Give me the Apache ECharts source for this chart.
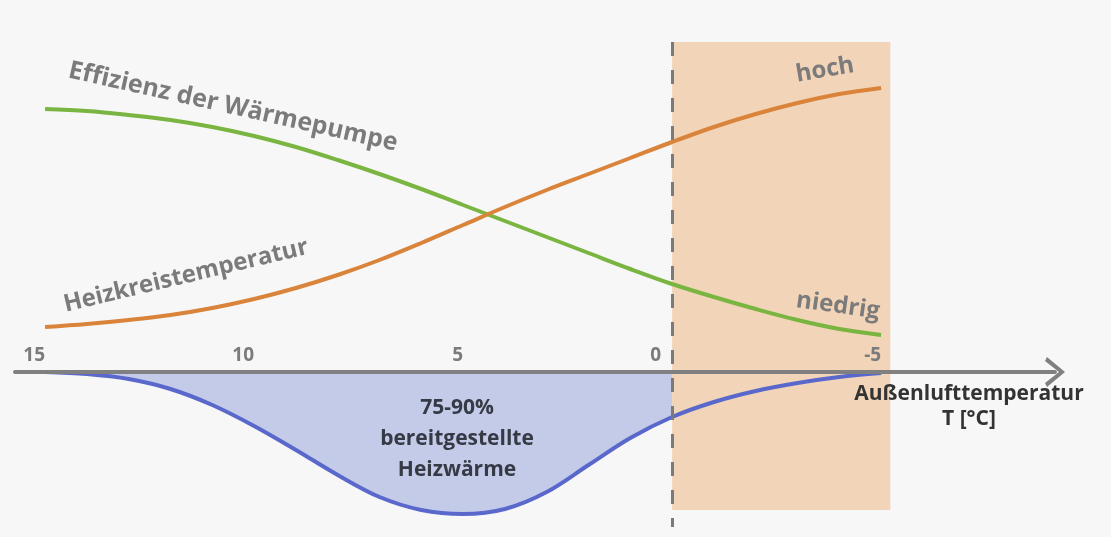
<!DOCTYPE html>
<html>
<head>
<meta charset="utf-8">
<script src="https://cdn.jsdelivr.net/npm/echarts@6/dist/echarts.min.js"></script>
<style>
  html, body { margin: 0; padding: 0; background: #f7f7f7; }
  #chart { width: 1111px; height: 537px; }
</style>
</head>
<body>
<div id="chart"></div>
<script>
// Außenlufttemperatur in °C (Achse läuft von 15 nach -5)
const temps = [15, 14, 13, 12, 11, 10, 9, 8, 7, 6, 5, 4, 3, 2, 1, 0, -1, -2, -3, -4, -5];
// Effizienz der Wärmepumpe (relative Einheiten)
const effizienz = [2.63, 2.61, 2.57, 2.52, 2.45, 2.36, 2.25, 2.12, 1.98, 1.83, 1.67, 1.51, 1.35, 1.19, 1.03, 0.88, 0.75, 0.63, 0.52, 0.43, 0.37];
// Heizkreistemperatur (relative Einheiten)
const heizkreis = [0.45, 0.48, 0.52, 0.57, 0.64, 0.73, 0.84, 0.97, 1.12, 1.29, 1.47, 1.65, 1.82, 1.98, 2.14, 2.30, 2.45, 2.58, 2.69, 2.78, 2.84];
// bereitgestellte Heizwärme (nach unten aufgetragen)
const heizwaerme = [0, -0.02, -0.07, -0.17, -0.33, -0.54, -0.78, -1.03, -1.25, -1.38, -1.42, -1.37, -1.20, -0.93, -0.66, -0.45, -0.30, -0.19, -0.11, -0.05, -0.01];
const tickLabels = [15, 10, 5, 0, -5];

const chart = echarts.init(document.getElementById('chart'));

const pairs = (ys) => temps.map((t, i) => [t, ys[i]]);
const textColor = '#7b7b7b';
const font = '"Open Sans", "Noto Sans", sans-serif';

const option = {
  backgroundColor: '#f7f7f7',
  animation: false,
  grid: { left: 15, right: 56, top: 22, bottom: 0 },
  xAxis: {
    type: 'value',
    inverse: true,
    min: -9.16,
    max: 15.72,
    z: 10,
    // Achse auf Höhe der Nulllinie
    offset: -165,
    splitLine: { show: false },
    axisLine: {
      onZero: false,
      lineStyle: { color: '#808080', width: 4 },
      symbol: ['none', 'path://M0,18 L15,0 L30,18 L26,20 L15,6 L4,20 Z'],
      symbolSize: [30, 20]
    },
    axisTick: { show: false },
    axisLabel: {
      inside: true,
      customValues: tickLabels,
      margin: 7,
      align: 'right',
      color: textColor,
      fontSize: 19,
      fontWeight: 'bold',
      fontFamily: font,
      // die 0 steht etwas links von der gestrichelten Linie
      formatter: (v) => (v === 0 ? '{z|0}' : String(v)),
      rich: {
        z: { padding: [0, 11, 0, 0], color: textColor, fontSize: 19, fontWeight: 'bold', fontFamily: font }
      }
    }
  },
  yAxis: {
    type: 'value',
    min: -1.65,
    max: 3.5,
    show: false
  },
  series: [
    {
      // Heizwärme-Fläche bis 0 °C
      type: 'line',
      z: 0,
      smooth: 0.35,
      symbol: 'none',
      data: pairs(heizwaerme).slice(0, 16),
      lineStyle: { width: 0 },
      areaStyle: { color: '#c3cbe9', opacity: 1, origin: 0 }
    },
    {
      // Bereich unter 0 °C
      type: 'line',
      data: [],
      markArea: {
        silent: true,
        z: 1,
        itemStyle: { color: '#f2d5b8' },
        data: [[{ xAxis: 0, yAxis: 3.3 }, { xAxis: -5.22, yAxis: -1.38 }]]
      },
      markLine: {
        silent: true,
        z: 5,
        symbol: 'none',
        label: { show: false },
        lineStyle: { color: '#7a7a7a', width: 3, type: [14, 14] },
        data: [[{ xAxis: 0, yAxis: 3.3 }, { xAxis: 0, yAxis: -1.55 }]]
      }
    },
    {
      name: 'Effizienz der Wärmepumpe',
      type: 'line',
      z: 3,
      smooth: 0.35,
      symbol: 'none',
      data: pairs(effizienz),
      lineStyle: { color: '#79b540', width: 4 }
    },
    {
      name: 'Heizkreistemperatur',
      type: 'line',
      z: 3,
      smooth: 0.35,
      symbol: 'none',
      data: pairs(heizkreis),
      lineStyle: { color: '#d9843a', width: 4 }
    },
    {
      name: 'Heizwärme',
      type: 'line',
      z: 3,
      smooth: 0.35,
      symbol: 'none',
      data: pairs(heizwaerme),
      lineStyle: { color: '#5a68cc', width: 4 }
    }
  ],
  graphic: {
    elements: [
      {
        type: 'text', x: 233, y: 107, rotation: -0.22, z: 100,
        style: { text: 'Effizienz der Wärmepumpe', fill: textColor, font: 'bold 25px ' + font, align: 'center', verticalAlign: 'middle' }
      },
      {
        type: 'text', x: 186, y: 276, rotation: 0.235, z: 100,
        style: { text: 'Heizkreistemperatur', fill: textColor, font: 'bold 24px ' + font, align: 'center', verticalAlign: 'middle' }
      },
      {
        type: 'text', x: 825, y: 70, rotation: 0.17, z: 100,
        style: { text: 'hoch', fill: textColor, font: 'bold 24px ' + font, align: 'center', verticalAlign: 'middle' }
      },
      {
        type: 'text', x: 838, y: 306, rotation: -0.14, z: 100,
        style: { text: 'niedrig', fill: textColor, font: 'bold 24px ' + font, align: 'center', verticalAlign: 'middle' }
      },
      {
        type: 'text', x: 457, y: 439, z: 100,
        style: { text: '75-90%\nbereitgestellte\nHeizwärme', fill: '#353a45', font: 'bold 21px ' + font, lineHeight: 31, align: 'center', verticalAlign: 'middle' }
      },
      {
        type: 'text', x: 969, y: 407, z: 100,
        style: { text: 'Außenlufttemperatur\nT [°C]', fill: '#333333', font: 'bold 21px ' + font, lineHeight: 25, align: 'center', verticalAlign: 'middle' }
      }
    ]
  }
};

chart.setOption(option);
</script>
</body>
</html>
